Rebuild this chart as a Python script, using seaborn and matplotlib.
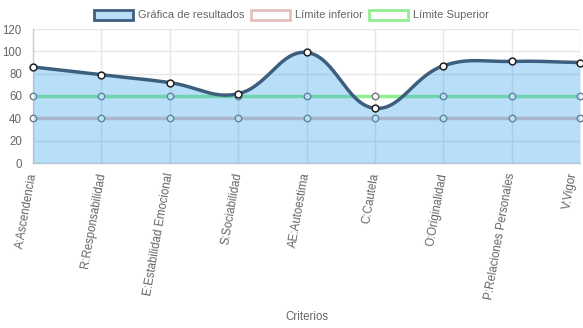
import numpy as np
import pandas as pd
import matplotlib
matplotlib.use("Agg")
import matplotlib.pyplot as plt
import seaborn as sns
from matplotlib.patches import Patch

categories = ["A:Ascendencia", "R:Responsabilidad", "E:Estabilidad Emocional",
              "S:Sociabilidad", "AE:Autoestima", "C:Cautela", "O:Originalidad",
              "P:Relaciones Personales", "V:Vigor"]
resultados = [86, 79, 72, 62, 99, 49, 87, 91, 90]
limite_inferior = [40, 40, 40, 40, 40, 40, 40, 40, 40]
limite_superior = [60, 60, 60, 60, 60, 60, 60, 60, 60]
y_ticks = [0, 20, 40, 60, 80, 100, 120]

sns.set_theme(style="white")
plt.rcParams['font.family'] = ['Liberation Sans', 'DejaVu Sans']

W, H = 583, 328
fig = plt.figure(figsize=(W / 100, H / 100), dpi=100)
left, right, top, bottom = 33, 580, 29, 163
ax = fig.add_axes([left / W, 1 - bottom / H, (right - left) / W, (bottom - top) / H])

n = len(categories)
xs = np.arange(n)
ax.set_xlim(0, n - 1)
ax.set_ylim(0, 120)

# Chart.js-like spline (tension 0.4) computed in pixel space
sx = (right - left) / (n - 1)
sy = (bottom - top) / 120.0
px = xs * sx
py = np.array(resultados, dtype=float) * sy
t = 0.4
cp_prev = []
cp_next = []
for i in range(n):
    p0 = np.array([px[max(i - 1, 0)], py[max(i - 1, 0)]])
    p1 = np.array([px[i], py[i]])
    p2 = np.array([px[min(i + 1, n - 1)], py[min(i + 1, n - 1)]])
    d01 = np.hypot(*(p1 - p0))
    d12 = np.hypot(*(p2 - p1))
    tot = d01 + d12
    s01 = d01 / tot if tot else 0
    s12 = d12 / tot if tot else 0
    fa, fb = t * s01, t * s12
    cp_prev.append(p1 - fa * (p2 - p0))
    cp_next.append(p1 + fb * (p2 - p0))
cx, cy = [], []
tt = np.linspace(0, 1, 60)
for i in range(n - 1):
    P0 = np.array([px[i], py[i]]); P3 = np.array([px[i + 1], py[i + 1]])
    P1 = cp_next[i]; P2 = cp_prev[i + 1]
    P1 = np.array([P1[0], np.clip(P1[1], 0, 120 * sy)])
    P2 = np.array([P2[0], np.clip(P2[1], 0, 120 * sy)])
    b = ((1 - tt) ** 3)[:, None] * P0 + (3 * (1 - tt) ** 2 * tt)[:, None] * P1 \
        + (3 * (1 - tt) * tt ** 2)[:, None] * P2 + (tt ** 3)[:, None] * P3
    cx.extend(b[:, 0] / sx); cy.extend(b[:, 1] / sy)
curve = pd.DataFrame({"x": cx, "y": cy})

inf_color = "#e8c0bb"
sup_color = "#90ee90"
main_color = "#3d5f7f"
fill_color = (54 / 255, 162 / 255, 235 / 255, 0.35)

df_inf = pd.DataFrame({"x": xs, "y": limite_inferior})
df_sup = pd.DataFrame({"x": xs, "y": limite_superior})
df_res = pd.DataFrame({"x": xs, "y": resultados})

sns.lineplot(data=df_inf, x="x", y="y", ax=ax, color=inf_color, lw=2.5, zorder=2)
sns.lineplot(data=df_sup, x="x", y="y", ax=ax, color=sup_color, lw=2.5, zorder=2)
sns.scatterplot(data=df_inf, x="x", y="y", ax=ax, s=22, color="white",
                edgecolor="#777777", linewidth=1.0, zorder=3, clip_on=False)
sns.scatterplot(data=df_sup, x="x", y="y", ax=ax, s=22, color="white",
                edgecolor="#777777", linewidth=1.0, zorder=3, clip_on=False)

ax.fill_between(curve["x"], 0, curve["y"], color=fill_color, lw=0, zorder=4)
sns.lineplot(data=curve, x="x", y="y", ax=ax, color=main_color, lw=2.5,
             sort=False, estimator=None, zorder=5)
sns.scatterplot(data=df_res, x="x", y="y", ax=ax, s=24, color="white",
                edgecolor="#222222", linewidth=1.1, zorder=6, clip_on=False)

# axes styling
ax.set_xticks(xs)
tick_texts = categories[:-1] + [""]
ax.set_xticklabels(tick_texts, rotation=80, ha="right", va="center",
                   rotation_mode="anchor", fontsize=8.3, color="#666666")
# last label nudged left so it stays inside the figure
ax.annotate(categories[-1], xy=(xs[-1], 0), xycoords=("data", "axes fraction"),
            xytext=(-5, -7), textcoords="offset points", rotation=80,
            ha="right", va="center", rotation_mode="anchor", fontsize=8.3,
            color="#666666", annotation_clip=False)
ax.set_yticks(y_ticks)
ax.set_yticklabels([str(v) for v in y_ticks], fontsize=8.3, color="#666666")
ax.grid(True, color="#e6e6e6", lw=1, zorder=0)
ax.set_axisbelow(True)
for side in ["top", "right"]:
    ax.spines[side].set_visible(False)
for side in ["left", "bottom"]:
    ax.spines[side].set_color("#cccccc")
    ax.spines[side].set_linewidth(1)
ax.tick_params(axis="both", length=6, color="#e0e0e0", pad=2)
ax.tick_params(axis="x", pad=1)
ax.set_xlabel("Criterios", fontsize=8.3, color="#666666", labelpad=0)
ax.xaxis.set_label_coords(0.5, (bottom - 311) / (bottom - top), transform=ax.transAxes)
ax.set_ylabel("")

handles = [Patch(facecolor=fill_color, edgecolor=main_color, lw=2),
           Patch(facecolor="white", edgecolor=inf_color, lw=2),
           Patch(facecolor="white", edgecolor=sup_color, lw=2)]
fig.legend(handles, ["Gráfica de resultados", "Límite inferior", "Límite Superior"],
           loc="center", bbox_to_anchor=(0.5, 1 - 15 / H), ncol=3, frameon=False,
           fontsize=8.0, labelcolor="#666666", handlelength=3.5, handleheight=1.05,
           handletextpad=0.45, columnspacing=0.6, borderpad=0)

fig.savefig("out.png", dpi=100)
